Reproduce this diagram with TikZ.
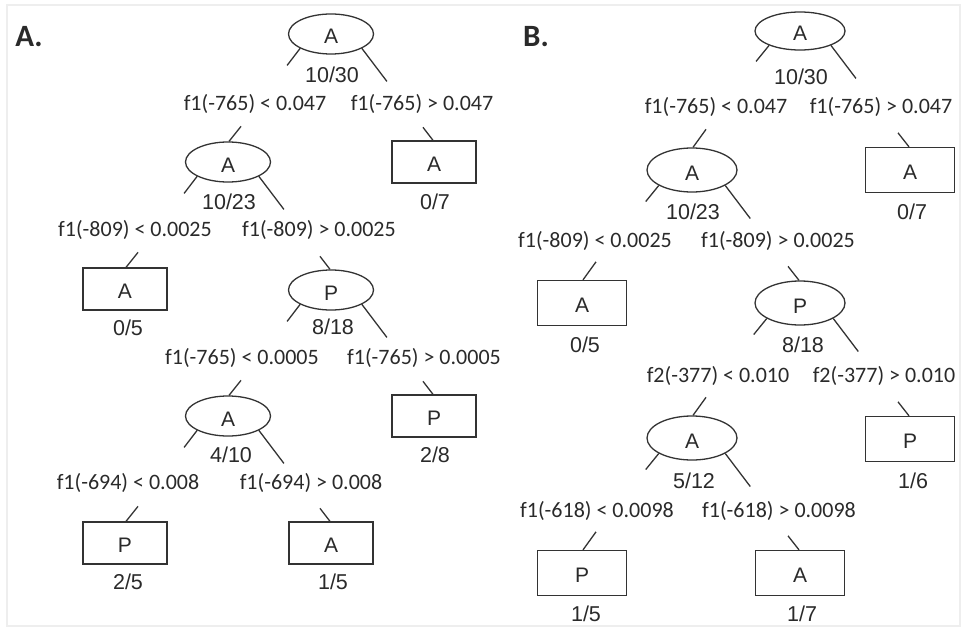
\documentclass[tikz,border=0pt]{standalone}
\usepackage{fontspec}
\setmainfont{Liberation Sans}
\newfontfamily\condfont{Carlito}
\usetikzlibrary{shapes.geometric}
\definecolor{ink}{HTML}{2A2A2A}
\definecolor{edge}{HTML}{333333}
\definecolor{frame}{HTML}{EEEEEE}
\begin{document}
\begin{tikzpicture}[x=1pt,y=-1pt,
  every node/.style={text=ink},
  link/.style={draw=edge,line width=1.3pt},
  ell/.style={ellipse,draw=edge,line width=1.3pt,minimum width=85pt,minimum height=40pt,inner sep=0pt,font=\fontsize{21}{22}\selectfont,text height=20pt,text depth=0pt},
  leaf/.style={rectangle,draw=edge,line width=1.3pt,minimum width=84pt,minimum height=42pt,inner sep=0pt,font=\fontsize{21}{22}\selectfont,text height=18.5pt,text depth=0pt},
  frac/.style={font=\fontsize{21.5}{22}\selectfont,inner sep=0pt},
  cond/.style={font=\condfont\fontsize{22}{24}\selectfont,inner sep=0pt},
  panel/.style={font=\condfont\bfseries\fontsize{31}{32}\selectfont,inner sep=0pt},
  ellB/.style={ell,minimum width=90pt,minimum height=44pt},
  leafB/.style={leaf,minimum width=89pt,minimum height=45pt},
  fracB/.style={frac}]
\useasboundingbox (0,0) rectangle (965,631);
\draw[frame,line width=2pt] (7,5) rectangle (960,626);

% ---------------- Panel A ----------------
\node[panel] (pA) at (29,37) {A.};
\node[ell] (a1) at (331,34) {A};
\node[frac] (fa1) at (332,75) {10/30};
\node[cond] (ca1l) at (255,104) {f1(-765) < 0.047};
\node[cond] (ca1r) at (422,104) {f1(-765) > 0.047};
\node[ell] (a2) at (228,162) {A};
\node[frac] (fa2) at (229,202) {10/23};
\node[leaf] (a3) at (434,162) {A};
\node[frac] (fa3) at (435,202) {0/7};
\node[cond] (ca2l) at (135,230) {f1(-809) < 0.0025};
\node[cond] (ca2r) at (319,230) {f1(-809) > 0.0025};
\node[leaf] (a4) at (125,289) {A};
\node[frac] (fa4) at (128,328) {0/5};
\node[ell] (a5) at (331,290) {P};
\node[frac] (fa5) at (333,327) {8/18};
\node[cond] (ca3l) at (242,358) {f1(-765) < 0.0005};
\node[cond] (ca3r) at (424,358) {f1(-765) > 0.0005};
\node[ell] (a6) at (228,416) {A};
\node[frac] (fa6) at (231,455) {4/10};
\node[leaf] (a7) at (434,416) {P};
\node[frac] (fa7) at (435,455) {2/8};
\node[cond] (ca4l) at (128,483) {f1(-694) < 0.008};
\node[cond] (ca4r) at (311,483) {f1(-694) > 0.008};
\node[leaf] (a8) at (125,543) {P};
\node[frac] (fa8) at (128,582) {2/5};
\node[leaf] (a9) at (331,543) {A};
\node[frac] (fa9) at (333,582) {1/5};

\foreach \n in {a1,a2,a5,a6}{
  \draw[link] (\n.-155) -- ++(-13,17);
  \draw[link] (\n.-25) -- ++(25,33);
}
\foreach \n in {a2,a4,a6,a8}{
  \draw[link] ([xshift=1pt]\n.north) -- ++(12,-15);
}
\foreach \n in {a3,a5,a7,a9}{
  \draw[link] ([xshift=-1pt]\n.north) -- ++(-10,-13);
}

% ---------------- Panel B ----------------
\node[panel] (pB) at (536,37) {B.};
\node[ellB,minimum height=38pt] (b1) at (800,31) {A};
\node[fracB] (fb1) at (801,77) {10/30};
\node[cond] (cb1l) at (716,107) {f1(-765) < 0.047};
\node[cond] (cb1r) at (881,107) {f1(-765) > 0.047};
\node[ellB] (b2) at (692,170) {A};
\node[fracB] (fb2) at (693,212) {10/23};
\node[leafB] (b3) at (910,170) {A};
\node[fracB] (fb3) at (912,212) {0/7};
\node[cond] (cb2l) at (595,241) {f1(-809) < 0.0025};
\node[cond] (cb2r) at (778,241) {f1(-809) > 0.0025};
\node[leafB] (b4) at (582,303) {A};
\node[fracB] (fb4) at (585,345) {0/5};
\node[ellB] (b5) at (800,303) {P};
\node[fracB] (fb5) at (803,345) {8/18};
\node[cond] (cb3l) at (718,376) {f2(-377) < 0.010};
\node[cond] (cb3r) at (884,376) {f2(-377) > 0.010};
\node[ellB] (b6) at (692,438) {A};
\node[fracB] (fb6) at (694,481) {5/12};
\node[leafB] (b7) at (910,439) {P};
\node[fracB] (fb7) at (913,481) {1/6};
\node[cond] (cb4l) at (597,511) {f1(-618) < 0.0098};
\node[cond] (cb4r) at (779,511) {f1(-618) > 0.0098};
\node[leafB] (b8) at (582,573) {P};
\node[fracB] (fb8) at (586,614) {1/5};
\node[leafB] (b9) at (800,573) {A};
\node[fracB] (fb9) at (802,614) {1/7};

\foreach \n in {b1,b2,b5,b6}{
  \draw[link] (\n.-155) -- ++(-13,16);
  \draw[link] (\n.-25) -- ++(25,33);
}
\foreach \n in {b2,b4,b6,b8}{
  \draw[link] ([xshift=1pt]\n.north) -- ++(13,-18);
}
\foreach \n in {b3,b5,b7,b9}{
  \draw[link] ([xshift=-1pt]\n.north) -- ++(-11,-14);
}
\end{tikzpicture}
\end{document}
